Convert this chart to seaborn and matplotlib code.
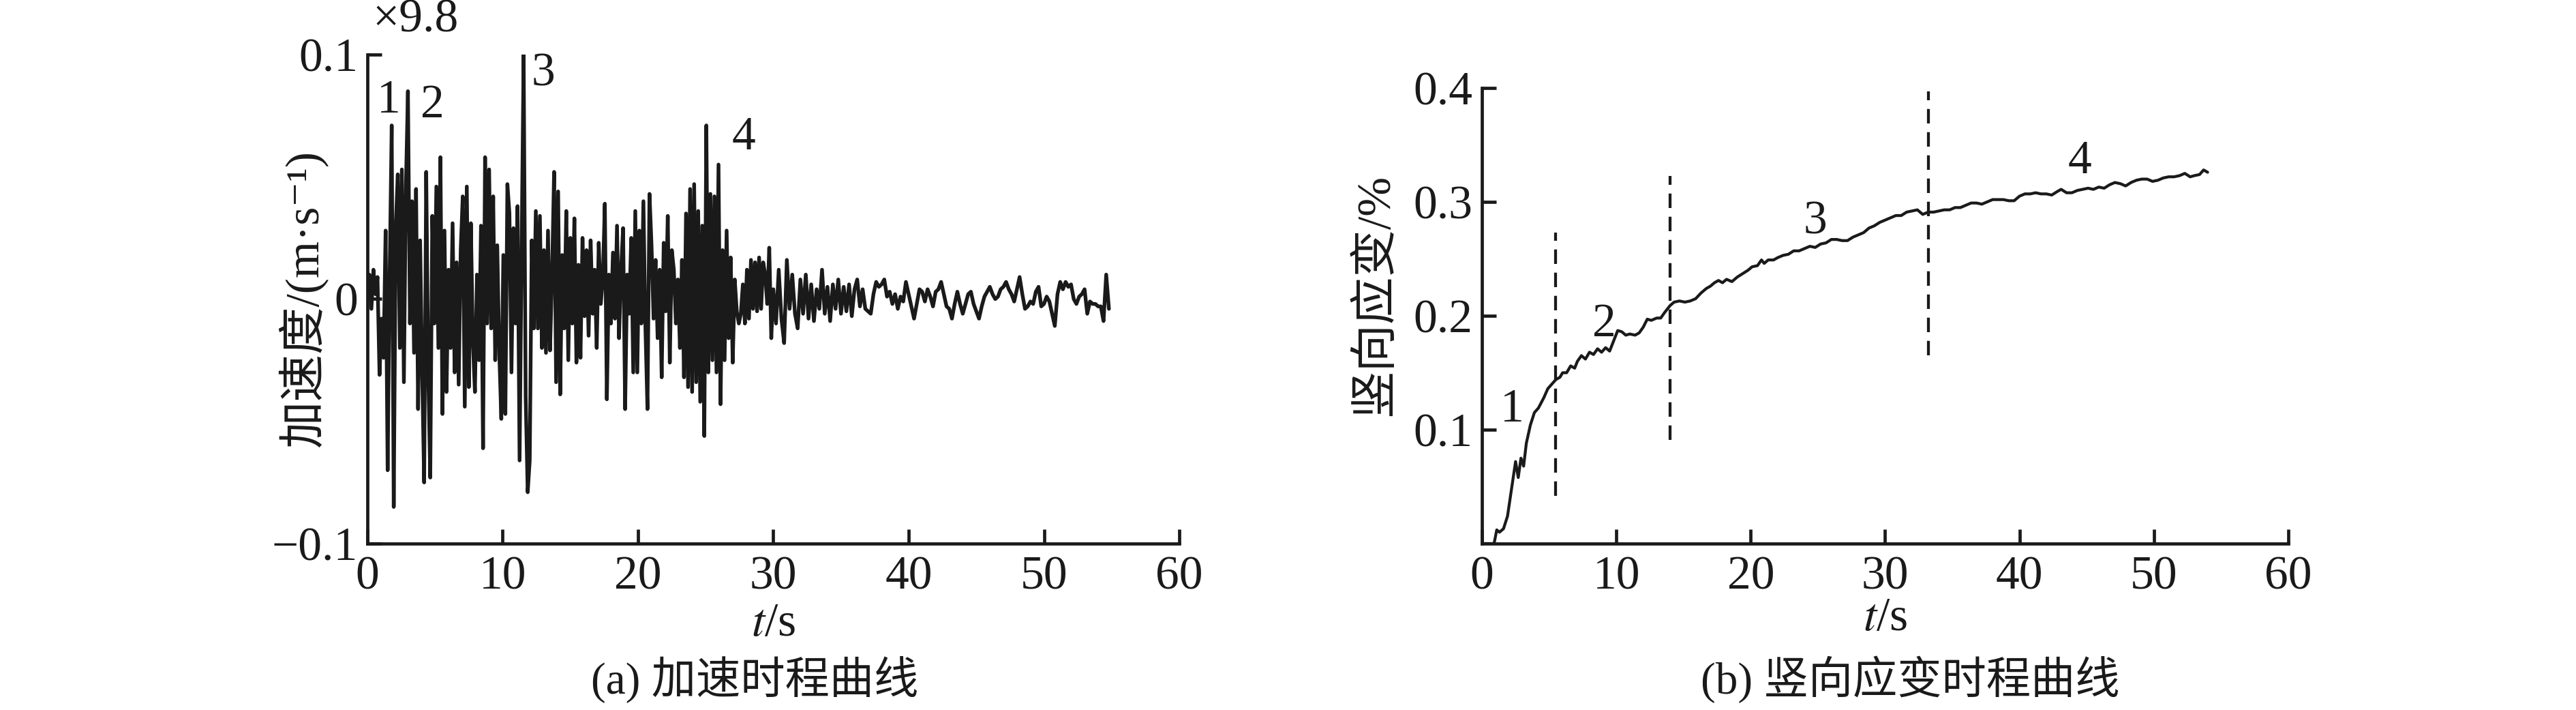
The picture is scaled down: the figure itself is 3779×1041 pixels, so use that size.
import numpy as np
import matplotlib
matplotlib.use("Agg")
import matplotlib.pyplot as plt
import seaborn as sns

# ---- data ----
# acceleration record (x9.8), sampled every 0.15 s from 0 s
acc_early = [
    0.000, 0.010, -0.004, 0.012, 0.002, 0.009, -0.031, -0.008, -0.024, 0.028,
    -0.070, 0.010, 0.071, -0.085, 0.030, 0.051, -0.020, 0.053, -0.034, 0.046,
    0.085, -0.010, 0.040, -0.022, 0.045, -0.045, 0.024, -0.030, -0.075, 0.052,
    -0.030, -0.073, 0.034, -0.010, 0.046, -0.020, 0.058, -0.047, 0.028, -0.038,
    0.012, -0.020, 0.031, -0.030, 0.015, -0.035, 0.020, 0.042, -0.044, 0.046,
    -0.036, 0.031, -0.018, -0.038, 0.010, -0.025, 0.030, -0.061, 0.058, -0.010,
    0.053, -0.012, 0.042, -0.025, 0.022, -0.022, -0.049, 0.018, -0.047, 0.047,
    0.035, -0.030, 0.029, -0.010, 0.038, -0.066, 0.020, 0.100, -0.040, -0.079,
    -0.066, 0.024, -0.012, 0.036, -0.012, 0.034, -0.020, 0.020, -0.022, 0.028,
    -0.021, 0.010, 0.052, -0.034, 0.044, -0.039, 0.018, -0.012, 0.036, -0.025,
    0.025, -0.010, 0.033, -0.026, 0.014, -0.024, 0.025, -0.007, 0.020, -0.015,
    0.024, -0.006, 0.012, -0.020, 0.023, -0.002, 0.008, 0.039, -0.041, 0.010,
    -0.010, 0.019, -0.008, 0.030, -0.016, 0.012, 0.029, -0.045, 0.010, -0.006,
    0.025, -0.030, 0.036, -0.030, 0.028, -0.010, 0.040, -0.012, -0.045, 0.043,
    0.022, -0.008, 0.016, -0.016, 0.012, -0.032, 0.023, -0.005, 0.034, -0.026,
    0.020, 0.012, -0.010, 0.008, -0.020, 0.016, -0.032, 0.035, -0.036, 0.045,
    -0.038, 0.047, -0.034, 0.036, -0.042, 0.030, -0.056, 0.071, -0.030, 0.043,
    -0.025, 0.042, -0.030, 0.055, -0.043, 0.020, -0.025, 0.028, -0.016, 0.017,
    -0.026, 0.008, -0.005, -0.010, -0.006, 0.006, -0.010, 0.012, -0.008, 0.016,
    -0.004, 0.015, -0.005, 0.017, -0.004, 0.015, 0.010, -0.002, 0.021, -0.016,
]
# tail of the record, sampled every 0.2 s from 30 s
acc_late = [
    0.004, -0.010, 0.012, -0.008, -0.018, 0.016, -0.004, 0.010, -0.006, -0.012,
    0.008, -0.006, 0.010, -0.008, 0.006, -0.009, 0.004, -0.004, 0.012, -0.006,
    0.005, -0.009, 0.006, -0.004, 0.008, -0.006, 0.005, -0.005, 0.006, -0.007,
    0.004, 0.008, -0.003, 0.004, -0.004, -0.005, -0.006, 0.002, 0.007, 0.005,
    0.006, 0.008, 0.001, 0.003, -0.002, 0.002, -0.004, 0.001, -0.001, 0.007,
    0.002, -0.003, -0.008, -0.002, 0.004, 0.003, -0.001, 0.004, 0.001, -0.003,
    0.003, 0.004, 0.007, 0.002, -0.003, -0.004, -0.008, -0.002, 0.003, -0.002,
    -0.006, -0.002, 0.002, 0.003, -0.002, -0.005, -0.008, -0.003, 0.001, 0.003,
    0.005, 0.002, 0.000, 0.001, 0.004, 0.005, 0.007, 0.004, 0.002, -0.001,
    0.004, 0.009, 0.002, -0.004, -0.003, -0.001, -0.002, 0.003, 0.005, -0.003,
    -0.002, 0.001, -0.001, -0.006, -0.011, 0.002, 0.007, 0.004, 0.007, 0.005,
    0.006, 0.000, -0.002, 0.001, 0.002, 0.004, -0.006, -0.001, -0.002, -0.002,
    -0.003, -0.003, -0.009, 0.010, -0.004,
]

# vertical strain history (%)
strain_t = [
    0.0, 0.9, 1.1, 1.3, 1.6, 1.9, 2.2, 2.5, 2.7, 2.9, 3.1, 3.3, 3.6, 3.9, 4.2,
    4.6, 4.9, 5.2, 5.5, 5.8, 6.0, 6.3, 6.6, 6.9, 7.1, 7.4, 7.7, 8.0, 8.3, 8.6,
    8.9, 9.2, 9.5, 9.8, 10.1, 10.4, 10.7, 11.0, 11.4, 11.7, 12.0, 12.3, 12.6,
    13.0, 13.3, 13.6, 14.0, 14.3, 14.7, 15.1, 15.5, 15.9, 16.3, 16.7, 17.0,
    17.3, 17.6, 17.9, 18.2, 18.6, 19.0, 19.4, 19.8, 20.1, 20.5, 20.8, 21.0,
    21.3, 21.7, 22.0, 22.4, 22.8, 23.2, 23.6, 24.0, 24.4, 24.8, 25.2, 25.6,
    26.0, 26.4, 26.8, 27.2, 27.6, 28.0, 28.4, 28.8, 29.2, 29.6, 30.0, 30.4,
    30.8, 31.2, 31.6, 32.0, 32.4, 32.8, 33.2, 33.6, 34.0, 34.4, 34.8, 35.2,
    35.6, 36.0, 36.4, 36.8, 37.2, 37.6, 38.0, 38.4, 38.8, 39.2, 39.6, 40.0,
    40.4, 40.8, 41.2, 41.6, 42.0, 42.4, 42.8, 43.1, 43.5, 43.9, 44.3, 44.7,
    45.1, 45.5, 45.9, 46.3, 46.7, 47.1, 47.5, 47.9, 48.3, 48.7, 49.1, 49.5,
    49.9, 50.3, 50.7, 51.1, 51.5, 51.9, 52.3, 52.7, 53.0, 53.4, 53.7, 54.0,
]
strain_v = [
    0.000, 0.000, 0.012, 0.010, 0.013, 0.024, 0.048, 0.072, 0.058, 0.075, 0.068,
    0.088, 0.104, 0.115, 0.119, 0.128, 0.136, 0.140, 0.144, 0.146, 0.150, 0.150,
    0.156, 0.154, 0.160, 0.165, 0.162, 0.168, 0.166, 0.171, 0.168, 0.172, 0.169,
    0.178, 0.187, 0.186, 0.183, 0.184, 0.183, 0.185, 0.190, 0.197, 0.196, 0.198,
    0.198, 0.203, 0.209, 0.212, 0.213, 0.212, 0.213, 0.215, 0.220, 0.224, 0.226,
    0.229, 0.231, 0.229, 0.232, 0.230, 0.234, 0.237, 0.240, 0.243, 0.244, 0.249,
    0.246, 0.249, 0.249, 0.251, 0.253, 0.254, 0.257, 0.257, 0.259, 0.261, 0.260,
    0.263, 0.264, 0.267, 0.267, 0.266, 0.266, 0.269, 0.271, 0.273, 0.277, 0.279,
    0.282, 0.284, 0.286, 0.288, 0.288, 0.291, 0.292, 0.293, 0.289, 0.291, 0.291,
    0.292, 0.293, 0.293, 0.295, 0.295, 0.297, 0.299, 0.299, 0.298, 0.300, 0.302,
    0.302, 0.302, 0.301, 0.301, 0.305, 0.307, 0.307, 0.308, 0.307, 0.307, 0.306,
    0.309, 0.311, 0.308, 0.308, 0.310, 0.311, 0.312, 0.311, 0.313, 0.312, 0.315,
    0.317, 0.316, 0.314, 0.317, 0.319, 0.320, 0.320, 0.318, 0.319, 0.321, 0.322,
    0.322, 0.323, 0.325, 0.322, 0.323, 0.324, 0.328, 0.326,
]

# stage boundaries on the strain plot
stage_t = [5.5, 14.0, 33.2]
stage_lo = [0.042, 0.091, 0.165]
stage_hi = [0.273, 0.323, 0.397]

stage_names = ["1", "2", "3", "4"]
acc_label_t = [1.6, 4.8, 13.0, 27.8]
acc_label_v = [0.081, 0.079, 0.092, 0.066]
strain_label_t = [2.25, 9.1, 24.8, 44.5]
strain_label_v = [0.117, 0.192, 0.282, 0.335]

x_ticks = [0, 10, 20, 30, 40, 50, 60]
acc_ticks = [-0.1, 0, 0.1]
acc_tick_labels = ["\u22120.1", "0", "0.1"]
strain_ticks = [0.1, 0.2, 0.3, 0.4]
strain_tick_labels = ["0.1", "0.2", "0.3", "0.4"]

# ---- style ----
sns.set_theme(style="ticks")
plt.rcParams["font.family"] = ["Liberation Serif", "Noto Sans CJK SC", "DejaVu Sans"]
plt.rcParams["mathtext.fontset"] = "stix"

ink = "#1a1a1a"
fs = 50
lw = 3.4

fig = plt.figure(figsize=(37.79, 10.41), dpi=100)
ax1 = fig.add_axes([0.1426, 0.2344, 0.3152, 0.6888])
ax2 = fig.add_axes([0.5753, 0.2344, 0.3130, 0.6417])

t_acc = np.concatenate([np.arange(len(acc_early)) * 0.15,
                        30.0 + np.arange(len(acc_late)) * 0.2])
acc = np.array(acc_early + acc_late)

sns.lineplot(x=t_acc, y=acc, ax=ax1, color=ink, linewidth=3.9, sort=False)
sns.lineplot(x=strain_t, y=strain_v, ax=ax2, color=ink, linewidth=lw * 0.9, sort=False)
ax2.vlines(stage_t, stage_lo, stage_hi, colors=ink, linestyles=(0, (5, 3)), linewidth=lw * 0.9)

for ax in (ax1, ax2):
    sns.despine(ax=ax)
    for side in ("left", "bottom"):
        ax.spines[side].set_linewidth(lw)
        ax.spines[side].set_color(ink)
    ax.tick_params(direction="in", length=15, width=lw, colors=ink,
                   labelsize=fs, pad=10)
    ax.tick_params(axis="x", pad=13)
    ax.set_xlim(0, 60)
    ax.set_xticks(x_ticks)
    ax.set_xticklabels([str(v) for v in x_ticks])
    ax.set_xlabel("$t$/s", fontsize=fs, color=ink)
    ax.xaxis.set_label_coords(0.5, -0.165)
    ax.xaxis.label.set_va("center")

ax1.set_ylim(-0.1, 0.1)
ax1.set_yticks(acc_ticks)
ax1.set_yticklabels(acc_tick_labels)
ax1.set_ylabel("加速度/(m·s⁻¹)", fontsize=fs, color=ink)
ax1.yaxis.set_label_coords(-0.079, 0.5)
ax1.yaxis.label.set_va("center")
ax1.text(0.059, 1.07, "×9.8", transform=ax1.transAxes, fontsize=fs,
         ha="center", va="center", color=ink)

ax2.set_ylim(0, 0.4)
ax2.set_yticks(strain_ticks)
ax2.set_yticklabels(strain_tick_labels)
ax2.set_ylabel("竖向应变/%", fontsize=fs, color=ink)
ax2.yaxis.set_label_coords(-0.131, 0.545)
ax2.yaxis.label.set_va("center")

for name, tx, ty in zip(stage_names, acc_label_t, acc_label_v):
    ax1.text(tx, ty, name, fontsize=fs, ha="center", va="center", color=ink)
for name, tx, ty in zip(stage_names, strain_label_t, strain_label_v):
    ax2.text(tx, ty, name, fontsize=fs, ha="center", va="center", color=ink)

fig.text(0.293, 0.043, "(a) 加速时程曲线", fontsize=47, ha="center", va="center", color=ink)
fig.text(0.7415, 0.043, "(b) 竖向应变时程曲线", fontsize=47, ha="center", va="center", color=ink)

fig.savefig("out.png", dpi=100, facecolor="white")
